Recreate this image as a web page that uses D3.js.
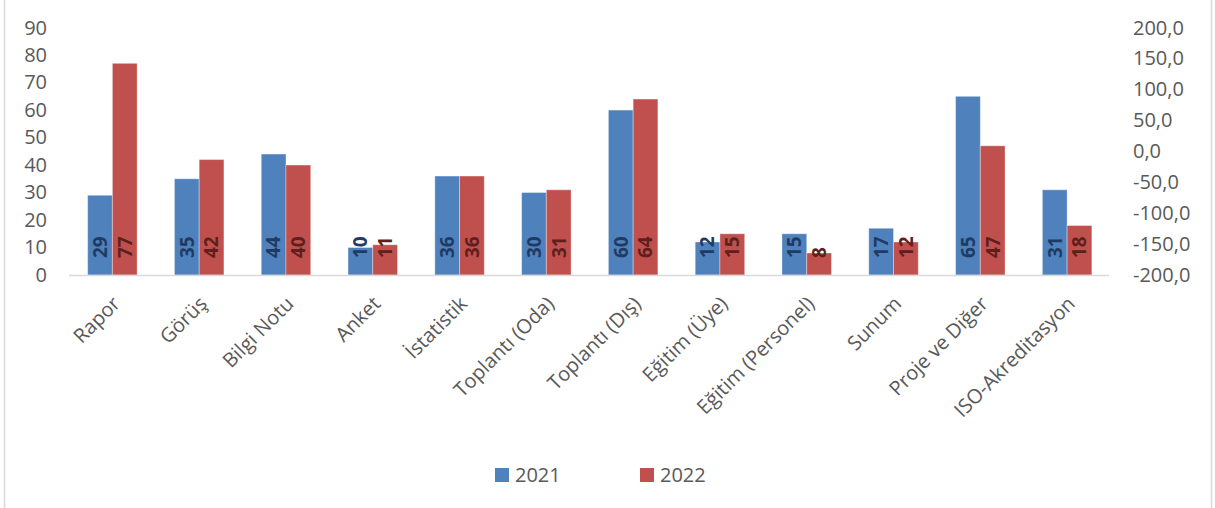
<!DOCTYPE html>
<html>
<head>
    <meta charset="utf-8" />
    <title>2021 - 2022 Faaliyetler</title>
    <script src="https://d3js.org/d3.v7.min.js" charset="utf-8"></script>
    <style>
        body { margin: 0; background: #fff; }
        text { font-family: "Open Sans", "Noto Sans", sans-serif; }
    </style>
</head>
<body>
    <script>
        // Chart data
        const categories = ["Rapor", "Görüş", "Bilgi Notu", "Anket", "İstatistik", "Toplantı (Oda)",
            "Toplantı (Dış)", "Eğitim (Üye)", "Eğitim (Personel)", "Sunum", "Proje ve Diğer", "ISO-Akreditasyon"];
        const values2021 = [29, 35, 44, 10, 36, 30, 60, 12, 15, 17, 65, 31];
        const values2022 = [77, 42, 40, 11, 36, 31, 64, 15, 8, 12, 47, 18];
        const seriesNames = ["2021", "2022"];
        const leftTicks = [0, 10, 20, 30, 40, 50, 60, 70, 80, 90];
        const rightTicks = [-200, -150, -100, -50, 0, 50, 100, 150, 200];

        const width = 1215, height = 508;
        const colors = ["#4F81BD", "#C0504D"];
        const labelColors = ["#1F3B64", "#5E1F1D"];
        const grey = "#595959";

        const svg = d3.select("body")
            .append("svg")
            .attr("width", width)
            .attr("height", height);

        // frame (only the side lines show in the picture)
        svg.append("line").attr("x1", 4.5).attr("x2", 4.5).attr("y1", 0).attr("y2", height)
            .attr("stroke", "#d9d9d9").attr("stroke-width", 1.5);
        svg.append("line").attr("x1", 1211.5).attr("x2", 1211.5).attr("y1", 0).attr("y2", height)
            .attr("stroke", "#d9d9d9").attr("stroke-width", 1.5);

        // scales
        const x = d3.scaleBand()
            .domain(categories)
            .range([69, 1110.5])
            .paddingInner(0.43)
            .paddingOuter(0.215);

        const xSub = d3.scaleBand()
            .domain(seriesNames)
            .range([0, x.bandwidth()]);

        const y = d3.scaleLinear().domain([0, 90]).range([275, 27.6]);
        const y2 = d3.scaleLinear().domain([-200, 200]).range([275, 27.6]);

        // left axis
        const leftAxis = svg.append("g")
            .attr("transform", "translate(47,0)")
            .call(d3.axisLeft(y).tickValues(leftTicks).tickSize(0).tickPadding(0));
        leftAxis.select(".domain").remove();
        leftAxis.selectAll("text")
            .attr("fill", grey)
            .attr("font-size", 20)
            .attr("font-family", "Open Sans, sans-serif");

        // right axis
        const commaFmt = d => d3.format(".1f")(d).replace(".", ",").replace("−", "-");
        const rightAxis = svg.append("g")
            .attr("transform", "translate(1133,0)")
            .call(d3.axisRight(y2).tickValues(rightTicks).tickSize(0).tickPadding(0).tickFormat(commaFmt));
        rightAxis.select(".domain").remove();
        rightAxis.selectAll("text")
            .attr("fill", grey)
            .attr("font-size", 20)
            .attr("font-family", "Open Sans, sans-serif");

        // bars
        const rows = categories.map((c, i) => ({ cat: c, vals: [values2021[i], values2022[i]] }));

        const groups = svg.selectAll(".grp")
            .data(rows)
            .enter()
            .append("g")
            .attr("class", "grp")
            .attr("transform", d => `translate(${x(d.cat)},0)`);

        groups.selectAll("rect")
            .data(d => d.vals.map((v, k) => ({ v: v, k: k })))
            .enter()
            .append("rect")
            .attr("x", d => xSub(seriesNames[d.k]))
            .attr("y", d => y(d.v))
            .attr("width", xSub.bandwidth())
            .attr("height", d => y(0) - y(d.v))
            .attr("fill", d => colors[d.k])
            .attr("stroke", "#ffffff")
            .attr("stroke-opacity", 0.35)
            .attr("stroke-width", 1);

        // x axis line
        svg.append("line")
            .attr("x1", 69).attr("x2", 1109)
            .attr("y1", y(0) + 0.5).attr("y2", y(0) + 0.5)
            .attr("stroke", "#d9d9d9").attr("stroke-width", 1.5);

        // value labels, inside base, rotated
        groups.selectAll(".val")
            .data(d => d.vals.map((v, k) => ({ v: v, k: k })))
            .enter()
            .append("text")
            .attr("class", "val")
            .attr("transform", d => `translate(${xSub(seriesNames[d.k]) + xSub.bandwidth() / 2},258) rotate(-90)`)
            .attr("dy", "0.36em")
            .attr("text-anchor", "start")
            .attr("font-size", 19)
            .attr("font-weight", "bold")
            .attr("fill", d => labelColors[d.k])
            .text(d => d.v);

        // category labels
        svg.selectAll(".cat")
            .data(categories)
            .enter()
            .append("text")
            .attr("class", "cat")
            .attr("transform", d => `translate(${x(d) + x.bandwidth() / 2 + 9},305) rotate(-45)`)
            .attr("text-anchor", "end")
            .attr("font-size", 20)
            .attr("fill", grey)
            .text(d => d);

        // legend
        const legendX = [495, 640];
        seriesNames.forEach((s, k) => {
            svg.append("rect")
                .attr("x", legendX[k]).attr("y", 468)
                .attr("width", 14).attr("height", 14)
                .attr("fill", colors[k]);
            svg.append("text")
                .attr("x", legendX[k] + 20).attr("y", 475)
                .attr("dy", "0.36em")
                .attr("font-size", 20)
                .attr("fill", grey)
                .text(s);
        });
    </script>
</body>
</html>
